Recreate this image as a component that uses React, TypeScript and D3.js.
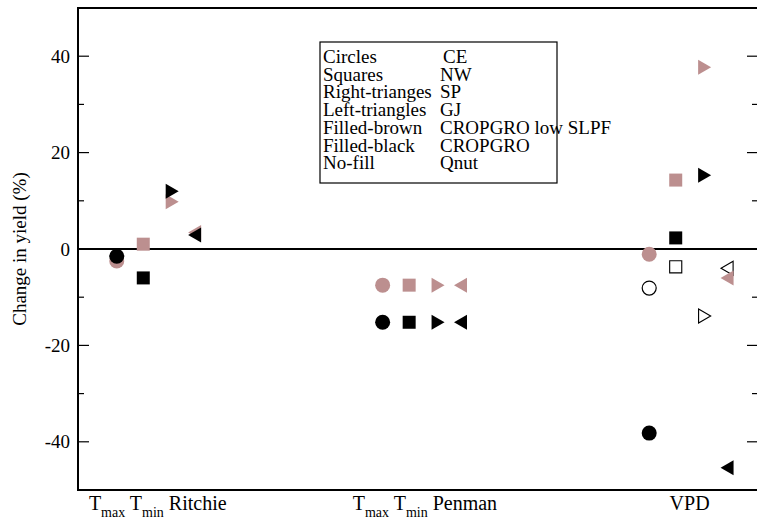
import React, { useEffect, useRef } from "react";
import * as d3 from "d3";

// groups along the x axis (model approaches)
const groupBases = [5.7, 44.8, 84.0];
// horizontal offset of each site inside a group: CE, NW, SP, GJ
const siteOffsets = [0, 3.9, 8.15, 11.45];
const siteShapes = ["circle", "square", "right", "left"];

// change in yield (%) per group, per site
const brownValues = [
  [-2.5, 1.0, 9.8, 3.4],
  [-7.5, -7.5, -7.5, -7.5],
  [-1.1, 14.3, 37.7, -6.0],
];
const blackValues = [
  [-1.5, -6.0, 12.0, 2.9],
  [-15.2, -15.2, -15.2, -15.2],
  [-38.2, 2.3, 15.3, -45.4],
];
const openValues: (number | null)[][] = [
  [null, null, null, null],
  [null, null, null, null],
  [-8.1, -3.7, -13.9, -4.0],
];

const yTicks = [-40, -20, 0, 20, 40];
const yMinorTicks = [-50, -30, -10, 10, 30, 50];

const legendLeft = [
  "Circles",
  "Squares",
  "Right-trianges",
  "Left-triangles",
  "Filled-brown",
  "Filled-black",
  "No-fill",
];
const legendRight = ["CE", "NW", "SP", "GJ", "CROPGRO low SLPF", "CROPGRO", "Qnut"];

// label start positions (x units) and texts
const groupLabelPos = [1.6, 40.4, 87.0];
const groupLabelNames = ["Ritchie", "Penman", "VPD"];
const groupLabelHasT = [true, true, false];

const BROWN = "#bc8f8f";
const FONT = "'Liberation Serif', 'Times New Roman', serif";

export default function App() {
  const ref = useRef<SVGSVGElement>(null);

  useEffect(() => {
    if (!ref.current) return;
    const svg = d3.select(ref.current);
    svg.selectAll("*").remove();

    const width = 757;
    const height = 520;
    const margin = { left: 78, right: -1, top: 8, bottom: 30 };

    const x = d3
      .scaleLinear()
      .domain([0, 100])
      .range([margin.left, width - margin.right]);
    const y = d3
      .scaleLinear()
      .domain([-50, 50])
      .range([height - margin.bottom, margin.top]);

    const g = svg.append("g");

    // frame
    g.append("rect")
      .attr("x", x(0))
      .attr("y", y(50))
      .attr("width", x(100) - x(0))
      .attr("height", y(-50) - y(50))
      .attr("fill", "none")
      .attr("stroke", "#000")
      .attr("stroke-width", 2);

    // ticks on left & right (inward)
    yTicks.forEach((t) => {
      g.append("line")
        .attr("x1", x(0))
        .attr("x2", x(0) + 11)
        .attr("y1", y(t))
        .attr("y2", y(t))
        .attr("stroke", "#000")
        .attr("stroke-width", 1.2);
      g.append("line")
        .attr("x1", x(100))
        .attr("x2", x(100) - 11)
        .attr("y1", y(t))
        .attr("y2", y(t))
        .attr("stroke", "#000")
        .attr("stroke-width", 1.2);
      g.append("text")
        .attr("x", x(0) - 8)
        .attr("y", y(t))
        .attr("dy", "0.35em")
        .attr("text-anchor", "end")
        .style("font", `19px ${FONT}`)
        .text(t);
    });
    yMinorTicks.forEach((t) => {
      g.append("line")
        .attr("x1", x(0))
        .attr("x2", x(0) + 6)
        .attr("y1", y(t))
        .attr("y2", y(t))
        .attr("stroke", "#000")
        .attr("stroke-width", 1.2);
      g.append("line")
        .attr("x1", x(100))
        .attr("x2", x(100) - 6)
        .attr("y1", y(t))
        .attr("y2", y(t))
        .attr("stroke", "#000")
        .attr("stroke-width", 1.2);
    });

    // zero line
    g.append("line")
      .attr("x1", x(0))
      .attr("x2", x(100))
      .attr("y1", y(0))
      .attr("y2", y(0))
      .attr("stroke", "#000")
      .attr("stroke-width", 2);

    // y label
    g.append("text")
      .attr("transform", `translate(26, ${y(0)}) rotate(-90)`)
      .attr("text-anchor", "middle")
      .style("font", `19px ${FONT}`)
      .text("Change in yield (%)");

    // group labels
    groupLabelPos.forEach((p, i) => {
      const t = g
        .append("text")
        .attr("x", x(p))
        .attr("y", height - 10)
        .style("font", `20px ${FONT}`);
      if (groupLabelHasT[i]) {
        t.append("tspan").text("T");
        t.append("tspan").attr("dy", 7).style("font-size", "14px").text("max");
        t.append("tspan").attr("dy", -7).text(" T");
        t.append("tspan").attr("dy", 7).style("font-size", "14px").text("min");
        t.append("tspan").attr("dy", -7).text(" " + groupLabelNames[i]);
      } else {
        t.text(groupLabelNames[i]);
      }
    });

    // marker drawing
    const sym = (shape: string, cx: number, cy: number) => {
      if (shape === "square") {
        const s = 6.5;
        return `M${cx - s},${cy - s}H${cx + s}V${cy + s}H${cx - s}Z`;
      }
      const w = 6.5;
      const h = 7.5;
      if (shape === "right")
        return `M${cx - w},${cy - h}L${cx + w},${cy}L${cx - w},${cy + h}Z`;
      return `M${cx + w},${cy - h}L${cx - w},${cy}L${cx + w},${cy + h}Z`;
    };

    const drawSet = (
      values: (number | null)[][],
      fill: string,
      stroke: string,
    ) => {
      values.forEach((row, gi) => {
        row.forEach((v, si) => {
          if (v === null) return;
          const cx = x(groupBases[gi] + siteOffsets[si]);
          const cy = y(v);
          const shape = siteShapes[si];
          if (shape === "circle") {
            g.append("circle")
              .attr("cx", cx)
              .attr("cy", cy)
              .attr("r", stroke === "none" ? 7.5 : 7)
              .attr("fill", fill)
              .attr("stroke", stroke)
              .attr("stroke-width", 1.2);
          } else {
            const sc = stroke === "none" ? 1 : 0.93;
            g.append("path")
              .attr("d", sym(shape, cx, cy))
              .attr(
                "transform",
                `translate(${cx},${cy}) scale(${sc}) translate(${-cx},${-cy})`,
              )
              .attr("fill", fill)
              .attr("stroke", stroke)
              .attr("stroke-width", 1.2);
          }
        });
      });
    };

    drawSet(openValues, "#fff", "#000");
    drawSet(brownValues, BROWN, "none");
    drawSet(blackValues, "#000", "none");

    // legend box
    const lg = g.append("g");
    lg.append("rect")
      .attr("x", 320)
      .attr("y", 42)
      .attr("width", 237)
      .attr("height", 141)
      .attr("fill", "#fff")
      .attr("stroke", "#000")
      .attr("stroke-width", 1.2);
    legendLeft.forEach((s, i) => {
      lg.append("text")
        .attr("x", 323)
        .attr("y", 63 + i * 17.7)
        .style("font", `19px ${FONT}`)
        .text(s);
      lg.append("text")
        .attr("x", i === 0 ? 443 : 440)
        .attr("y", 63 + i * 17.7)
        .style("font", `19px ${FONT}`)
        .text(legendRight[i]);
    });
  }, []);

  return (
    <svg
      ref={ref}
      width={757}
      height={520}
      style={{ position: "absolute", left: 0, top: 0, background: "#fff" }}
    />
  );
}
